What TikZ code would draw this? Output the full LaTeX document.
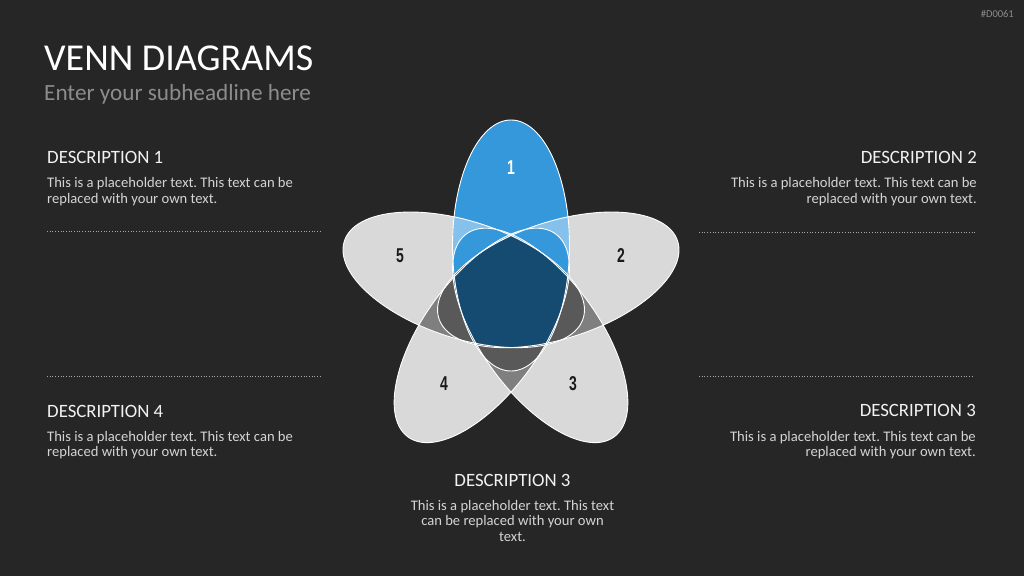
\documentclass[tikz,border=0pt]{standalone}
\usepackage{fontspec}
\setmainfont{Carlito}
\newfontfamily\numfont{Liberation Sans}
\frenchspacing
\definecolor{bg}{HTML}{262626}
\definecolor{lgray}{HTML}{D9D9D9}
\definecolor{mgray}{HTML}{7F7F7F}
\definecolor{dgray}{HTML}{595959}
\definecolor{vblue}{HTML}{3498DB}
\definecolor{lblue}{HTML}{85C1EA}
\definecolor{dblue}{HTML}{154B70}
\definecolor{subgray}{HTML}{8C8C8C}
\definecolor{bodygray}{HTML}{D4D4D4}
\definecolor{headwhite}{HTML}{F2F2F2}
\definecolor{numdark}{HTML}{1A1A1A}
\definecolor{dotgray}{HTML}{A6A6A6}
\newcommand\pet{(49.7,0) ellipse [x radius=125.5, y radius=58.5]}
\tikzset{
  petal/.style={shift={(511,280.8)},rotate=#1},
  wline/.style={draw=white,line width=0.9pt},
  titlet/.style={inner sep=0pt,text=white,font=\fontsize{38}{40}\selectfont},
  subt/.style={inner sep=0pt,text=subgray,font=\fontsize{23.2}{26}\selectfont},
  headt/.style={inner sep=0pt,text=headwhite,font=\fontsize{18.8}{20}\selectfont},
  bodyt/.style={inner sep=0pt,text=bodygray,font=\fontsize{14.6}{16}\selectfont},
  numt/.style={inner sep=0pt,font=\numfont\bfseries\fontsize{20}{21}\selectfont,xscale=0.7},
  dotline/.style={draw=dotgray,line width=0.9pt,dash pattern=on 0.9pt off 1.8pt},
}
\begin{document}
\begin{tikzpicture}[x=1pt,y=1pt]
\useasboundingbox (0,0) rectangle (1024,576);
\fill[bg] (0,0) rectangle (1024,576);
% gray levels by number of overlapping petals
\foreach \a in {90,18,-54,-126,162} \fill[lgray,petal=\a] \pet;
\foreach \a/\b in {90/18,90/-54,90/-126,90/162,18/-54,18/-126,18/162,-54/-126,-54/162,-126/162}{
  \begin{scope}\clip[petal=\a] \pet; \fill[mgray,petal=\b] \pet;\end{scope}}
\foreach \a/\b/\c in {90/18/-54,90/18/-126,90/18/162,90/-54/-126,90/-54/162,90/-126/162,18/-54/-126,18/-54/162,18/-126/162,-54/-126/162}{
  \begin{scope}\clip[petal=\a] \pet; \clip[petal=\b] \pet; \fill[dgray,petal=\c] \pet;\end{scope}}
% blue family on the upper part of petal 1
\begin{scope}
  \clip[petal=90] \pet;
  \clip (0,276) rectangle (1024,576);
  \fill[vblue,petal=90] \pet;
  \foreach \a in {18,-54,-126,162} \fill[lblue,petal=\a] \pet;
  \foreach \a/\b in {18/-54,18/-126,18/162,-54/-126,-54/162,-126/162}{
    \begin{scope}\clip[petal=\a] \pet; \fill[vblue,petal=\b] \pet;\end{scope}}
\end{scope}
\begin{scope}
  \clip[petal=90] \pet;
  \clip[petal=18] \pet;
  \fill[dblue,petal=162] \pet;
\end{scope}
% outlines
\foreach \a in {18,-54,-126,162,90} \draw[wline,petal=\a] \pet;
% numbers
\node[numt,text=white] (n1) at (511,408) {1};
\node[numt,text=numdark] (n2) at (621,320) {2};
\node[numt,text=numdark] (n3) at (573,192) {3};
\node[numt,text=numdark] (n4) at (444,192) {4};
\node[numt,text=numdark] (n5) at (400,320) {5};
% titles
\node[titlet,anchor=base west] (title) at (44,505) {VENN DIAGRAMS};
\node[subt,anchor=base west] (sub) at (44,475) {Enter your subheadline here};
\node[inner sep=0pt,text=subgray,font=\fontsize{10.5}{11}\selectfont,anchor=base east] (id) at (1014,558.7) {\#D0061};
% description 1
\node[headt,anchor=base west] (h1) at (47,412) {DESCRIPTION 1};
\node[bodyt,anchor=base west] (b1a) at (47,388.3) {This is a placeholder text. This text can be};
\node[bodyt,anchor=base west] (b1b) at (47,372.7) {replaced with your own text.};
% description 2
\node[headt,anchor=base east] (h2) at (977,412.7) {DESCRIPTION 2};
\node[bodyt,anchor=base east] (b2a) at (977,388.3) {This is a placeholder text. This text can be};
\node[bodyt,anchor=base east] (b2b) at (977,372.7) {replaced with your own text.};
% description 4
\node[headt,anchor=base west] (h4) at (47,158.7) {DESCRIPTION 4};
\node[bodyt,anchor=base west] (b4a) at (47,135) {This is a placeholder text. This text can be};
\node[bodyt,anchor=base west] (b4b) at (47,119.3) {replaced with your own text.};
% description 3 right
\node[headt,anchor=base east] (h3r) at (976,159.3) {DESCRIPTION 3};
\node[bodyt,anchor=base east] (b3ra) at (976,135) {This is a placeholder text. This text can be};
\node[bodyt,anchor=base east] (b3rb) at (976,119.3) {replaced with your own text.};
% description 3 bottom
\node[headt,anchor=base] (h3) at (512.5,89.3) {DESCRIPTION 3};
\node[bodyt,anchor=base] (b3a) at (512.5,66) {This is a placeholder text. This text};
\node[bodyt,anchor=base] (b3b) at (512.5,50.3) {can be replaced with your own};
\node[bodyt,anchor=base] (b3c) at (512.5,34.3) {text.};
% dotted separators
\draw[dotline] (47,345) -- (322,345);
\draw[dotline] (47,199.3) -- (322,199.3);
\draw[dotline] (699,344) -- (977,344);
\draw[dotline] (699,200) -- (974,200);
\end{tikzpicture}
\end{document}
